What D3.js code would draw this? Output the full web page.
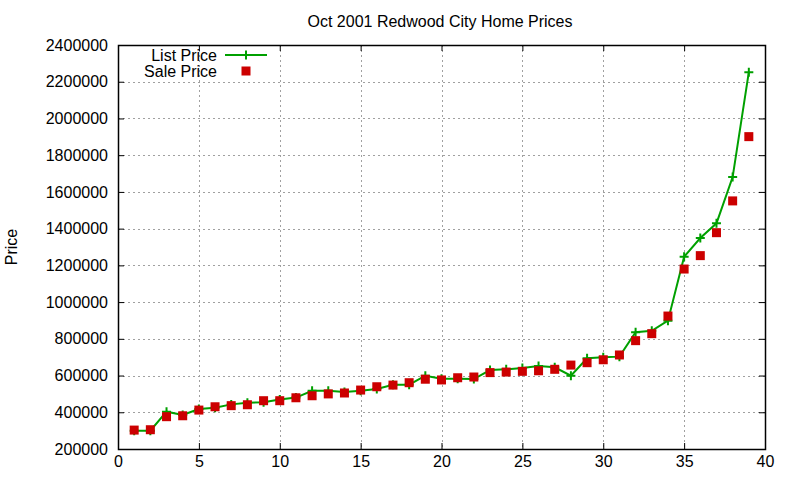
<!DOCTYPE html>
<html>
<head>
<meta charset="utf-8">
<script src="https://cdn.jsdelivr.net/npm/d3@7"></script>
<style>
  body { margin: 0; background: #fff; }
  svg { display: block; font-family: "Liberation Sans", Arial, sans-serif; }
</style>
</head>
<body>
<svg id="Chart"></svg>
<script>
// house index (sorted by list price)
let houses = d3.range(1, 40)
let listPrices = [300000, 300000, 403000, 385000, 418000, 425000, 443000, 452000, 455000, 470000,
  480000, 517000, 517000, 510000, 517000, 527000, 550000, 550000, 599000, 583000,
  583000, 581000, 630000, 634000, 641000, 652000, 645000, 599000, 694000, 699000,
  703000, 836000, 844000, 899000, 1247000, 1349000, 1429000, 1681000, 2252000]
let salePrices = [303000, 305000, 376000, 381000, 412000, 430000, 436000, 441000, 463000, 463000,
  479000, 490000, 500000, 505000, 521000, 539000, 548000, 561000, 580000, 576000,
  588000, 592000, 616000, 619000, 623000, 626000, 634000, 657000, 670000, 686000,
  712000, 790000, 828000, 924000, 1180000, 1253000, 1378000, 1551000, 1901000]
let xTicks = [0, 5, 10, 15, 20, 25, 30, 35, 40]
let yTicks = d3.range(200000, 2400001, 200000)

function getConfig() {
  let width = 800
  let height = 480
  let margin = { top: 45, bottom: 31, left: 118, right: 35 }
  let bodyWidth = width - margin.left - margin.right
  let bodyHeight = height - margin.top - margin.bottom
  let container = d3.select("#Chart")
    .attr("width", width)
    .attr("height", height)
  return { width, height, margin, bodyWidth, bodyHeight, container }
}

function getScales(config) {
  let xScale = d3.scaleLinear().domain([0, 40]).range([0, config.bodyWidth])
  let yScale = d3.scaleLinear().domain([200000, 2400000]).range([config.bodyHeight, 0])
  return { xScale, yScale }
}

function drawGrid(scales, config) {
  let { xScale, yScale } = scales
  let { margin, container, bodyWidth, bodyHeight } = config
  let g = container.append("g").attr("transform", `translate(${margin.left},${margin.top})`)
  g.selectAll(".vgrid").data(xTicks.slice(1, -1)).enter().append("line")
    .attr("x1", d => Math.round(xScale(d)) + 0.5).attr("x2", d => Math.round(xScale(d)) + 0.5)
    .attr("y1", 0).attr("y2", bodyHeight)
    .attr("stroke", "#a0a0a0").attr("stroke-dasharray", "2,3")
  g.selectAll(".hgrid").data(yTicks.slice(1, -1)).enter().append("line")
    .attr("y1", d => Math.round(yScale(d)) + 0.5).attr("y2", d => Math.round(yScale(d)) + 0.5)
    .attr("x1", 0).attr("x2", bodyWidth)
    .attr("stroke", "#a0a0a0").attr("stroke-dasharray", "2,3")
}

function drawAxes(scales, config) {
  let { xScale, yScale } = scales
  let { margin, container, bodyWidth, bodyHeight } = config
  let t = 6
  let fmt = d3.format("d")

  let bottom = container.append("g")
    .attr("transform", `translate(${margin.left},${margin.top + bodyHeight})`)
    .call(d3.axisBottom(xScale).tickValues(xTicks).tickSizeInner(-t).tickSizeOuter(0).tickPadding(7))
  let top = container.append("g")
    .attr("transform", `translate(${margin.left},${margin.top})`)
    .call(d3.axisTop(xScale).tickValues(xTicks).tickSizeInner(-t).tickSizeOuter(0).tickFormat(""))
  let left = container.append("g")
    .attr("transform", `translate(${margin.left},${margin.top})`)
    .call(d3.axisLeft(yScale).tickValues(yTicks).tickFormat(fmt).tickSizeInner(-t).tickSizeOuter(0).tickPadding(10))
  let right = container.append("g")
    .attr("transform", `translate(${margin.left + bodyWidth},${margin.top})`)
    .call(d3.axisRight(yScale).tickValues(yTicks).tickSizeInner(-t).tickSizeOuter(0).tickFormat(""))

  for (let a of [bottom, top, left, right]) {
    a.select(".domain").remove()
    a.selectAll("line").attr("stroke", "#000")
    a.selectAll("text").attr("fill", "#000").style("font-size", "16px").style("font-family", "Liberation Sans, Arial, sans-serif")
  }

  container.append("rect")
    .attr("x", margin.left + 0.5).attr("y", margin.top + 0.5)
    .attr("width", bodyWidth).attr("height", bodyHeight)
    .attr("fill", "none").attr("stroke", "#000").attr("stroke-width", 1.5)

  container.append("text")
    .attr("transform", `translate(17,${margin.top + bodyHeight / 2}) rotate(-90)`)
    .attr("text-anchor", "middle")
    .style("font-size", "16px")
    .text("Price")

  container.append("text")
    .attr("x", 440).attr("y", 27)
    .attr("text-anchor", "middle")
    .style("font-size", "16px")
    .text("Oct 2001 Redwood City Home Prices")
}

function plusPath(x, y, s) {
  return `M${x - s},${y}H${x + s}M${x},${y - s}V${y + s}`
}

function drawSeries(scales, config) {
  let { xScale, yScale } = scales
  let { margin, container } = config
  let g = container.append("g").attr("transform", `translate(${margin.left},${margin.top})`)
  let listData = houses.map((h, i) => ({ x: h, y: listPrices[i] }))
  let saleData = houses.map((h, i) => ({ x: h, y: salePrices[i] }))

  let line = d3.line().x(d => xScale(d.x)).y(d => yScale(d.y))
  g.append("path").datum(listData)
    .attr("d", line).attr("fill", "none")
    .attr("stroke", "#00a000").attr("stroke-width", 2)
  g.selectAll(".plus").data(listData).enter().append("path")
    .attr("d", d => plusPath(xScale(d.x), yScale(d.y), 4.5))
    .attr("stroke", "#00a000").attr("stroke-width", 2)

  g.selectAll(".sq").data(saleData).enter().append("rect")
    .attr("x", d => xScale(d.x) - 4.5).attr("y", d => yScale(d.y) - 4.5)
    .attr("width", 9).attr("height", 9)
    .attr("fill", "#cc0000")
}

function drawLegend(config) {
  let { container } = config
  let lg = container.append("g")
  lg.append("text").attr("x", 217).attr("y", 55).attr("dy", "0.35em")
    .attr("text-anchor", "end").style("font-size", "16px").text("List Price")
  lg.append("line").attr("x1", 225).attr("x2", 267).attr("y1", 55).attr("y2", 55)
    .attr("stroke", "#00a000").attr("stroke-width", 2)
  lg.append("path").attr("d", plusPath(246, 55, 4.5))
    .attr("stroke", "#00a000").attr("stroke-width", 2)
  lg.append("text").attr("x", 217).attr("y", 71).attr("dy", "0.35em")
    .attr("text-anchor", "end").style("font-size", "16px").text("Sale Price")
  lg.append("rect").attr("x", 241.5).attr("y", 66.5).attr("width", 9).attr("height", 9)
    .attr("fill", "#cc0000")
}

function drawChart() {
  let config = getConfig()
  let scales = getScales(config)
  drawGrid(scales, config)
  drawSeries(scales, config)
  drawAxes(scales, config)
  drawLegend(config)
}

drawChart()
</script>
</body>
</html>
